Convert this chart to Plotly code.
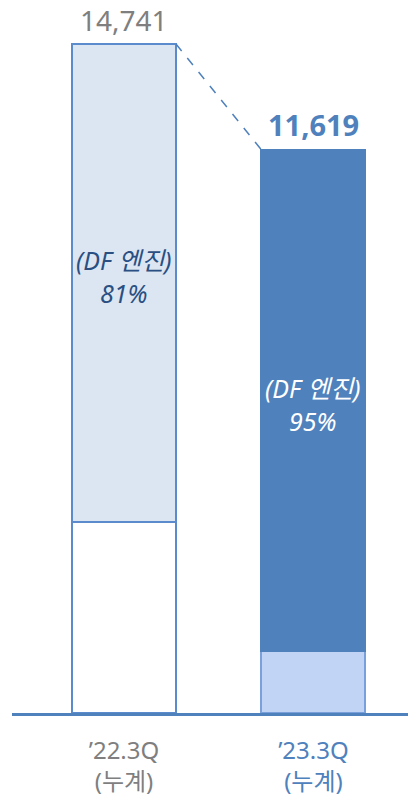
import plotly.graph_objects as go

# ---- data (bar segment heights, labels as shown) ----
categories = ["’22.3Q<br>(누계)", "’23.3Q<br>(누계)"]
x_pos = [0, 1]
other_part = [4209, 1357]       # lower segment
df_engine_part = [10532, 11049]  # upper segment (DF 엔진)
total_labels = ["14,741", "11,619"]
df_share_labels = ["(DF 엔진)<br>81%", "(DF 엔진)<br>95%"]
df_label_y = [9607, 6808]        # label position

totals = [a + b for a, b in zip(other_part, df_engine_part)]

FONT = "Noto Sans, Noto Sans CJK KR, sans-serif"
BLUE = "#4f81bd"
EDGE = "#5b8bcc"
GRAY = "#7f7f7f"
BAR_W = 0.549

fig = go.Figure()
fig.add_trace(go.Bar(
    x=x_pos, y=other_part, width=BAR_W,
    marker=dict(color=["#ffffff", "#c2d4f6"],
                line=dict(color=[EDGE, "#7aa0dc"], width=2)),
    hoverinfo="skip", showlegend=False,
))
fig.add_trace(go.Bar(
    x=x_pos, y=df_engine_part, width=BAR_W,
    marker=dict(color=["#dce6f2", BLUE],
                line=dict(color=[EDGE, BLUE], width=2)),
    hoverinfo="skip", showlegend=False,
))

# inside labels
for xi, yi, t, c in zip(x_pos, df_label_y, df_share_labels, ["#2a4f82", "#ffffff"]):
    fig.add_annotation(x=xi, y=yi, text=t, showarrow=False,
                       font=dict(family=FONT, size=25, color=c, style="italic"))

# dashed connector between bar tops
fig.add_shape(type="line", xref="x", yref="y",
              x0=x_pos[0] + BAR_W / 2, y0=totals[0],
              x1=x_pos[1] - BAR_W / 2, y1=totals[1],
              line=dict(color=BLUE, width=1.5, dash="dash"))

# total labels
fig.add_annotation(x=x_pos[0], y=totals[0], text=total_labels[0], showarrow=False,
                   yanchor="bottom", yshift=3,
                   font=dict(family=FONT, size=28, color=GRAY))
fig.add_annotation(x=x_pos[1], y=totals[1], text="<b>" + total_labels[1] + "</b>",
                   showarrow=False, yanchor="bottom", yshift=4,
                   font=dict(family=FONT, size=29, color=BLUE))

tick_colors = [GRAY, BLUE]
ticktext = [f'<span style="color:{c}">{t}</span>' for t, c in zip(categories, tick_colors)]

fig.update_layout(
    barmode="stack",
    width=408, height=797,
    margin=dict(l=12, r=0, t=20, b=84),
    paper_bgcolor="white", plot_bgcolor="white",
    font=dict(family=FONT),
    xaxis=dict(range=[-0.591, 1.499], tickvals=x_pos, ticktext=ticktext,
               showgrid=False, zeroline=False, showline=True,
               linecolor=BLUE, linewidth=3, ticks="",
               ticklabelstandoff=14,
               tickfont=dict(family=FONT, size=24, color=GRAY),
               automargin=False, fixedrange=True),
    yaxis=dict(range=[0, 15269], visible=False, showgrid=False,
               zeroline=False, fixedrange=True),
    bargap=0,
)

fig.write_html("out.html", config={"displayModeBar": False},
               post_script="document.body.style.margin='0';document.body.style.padding='0';")
